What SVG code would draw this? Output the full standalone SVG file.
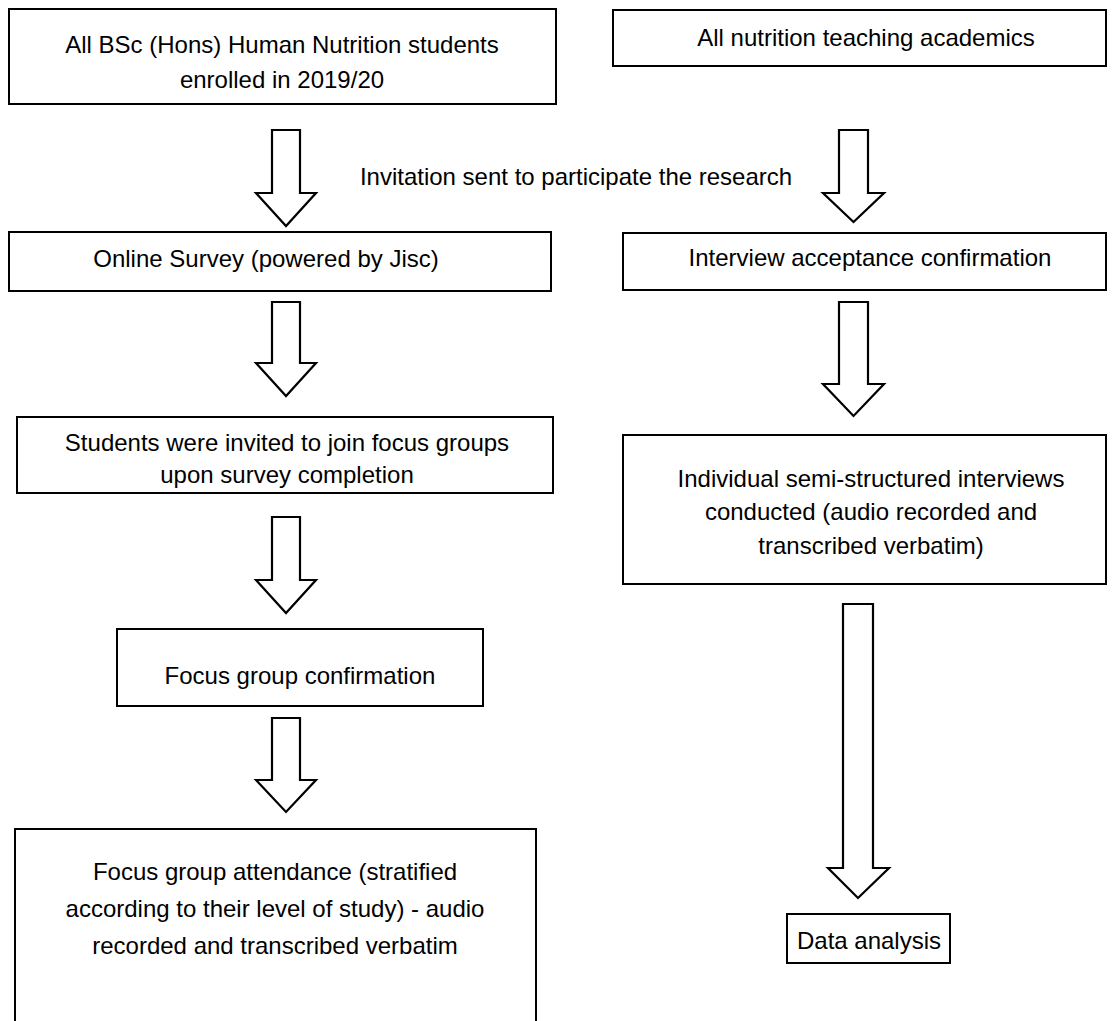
<svg xmlns="http://www.w3.org/2000/svg" width="1115" height="1021" viewBox="0 0 1115 1021">
<style>
.box{fill:#fff;stroke:#000;stroke-width:2}
.arr{fill:#fff;stroke:#000;stroke-width:2.2;stroke-linejoin:miter}
text{font-family:"Liberation Sans",Arial,sans-serif;font-size:24px;fill:#000;text-anchor:middle}
</style>
<rect width="1115" height="1021" fill="#fff"/>
<g id="connectors">
<polygon class="arr" points="272,130 300,130 300,193 316,193 286,226 256,193 272,193"/>
<polygon class="arr" points="839,130 868,130 868,193 884,193 853.5,222 823,193 839,193"/>
<polygon class="arr" points="272,302 300,302 300,363 316,363 286,396 256,363 272,363"/>
<polygon class="arr" points="839,302 868,302 868,384 884,384 853.5,416 823,384 839,384"/>
<polygon class="arr" points="272,517 300,517 300,580 316,580 286,613 256,580 272,580"/>
<polygon class="arr" points="272,718 300,718 300,780 316,780 286,812 256,780 272,780"/>
<polygon class="arr" points="843,604 873,604 873,868 889,868 858,898 828,868 843,868"/>
</g>
<g id="invitation-label"><text x="576" y="185">Invitation sent to participate the research</text></g>
<g id="n1"><rect class="box" x="9" y="9" width="547" height="95"/>
<text x="282" y="53">All BSc (Hons) Human Nutrition students</text>
<text x="282" y="88">enrolled in 2019/20</text></g>
<g id="n2"><rect class="box" x="613" y="10" width="493" height="56"/>
<text x="866" y="46">All nutrition teaching academics</text></g>
<g id="n3"><rect class="box" x="9" y="232" width="542" height="59"/>
<text x="266" y="267">Online Survey (powered by Jisc)</text></g>
<g id="n4"><rect class="box" x="623" y="233" width="483" height="57"/>
<text x="870" y="266">Interview acceptance confirmation</text></g>
<g id="n5"><rect class="box" x="17" y="417" width="536" height="76"/>
<text x="287" y="451">Students were invited to join focus groups</text>
<text x="287" y="483">upon survey completion</text></g>
<g id="n6"><rect class="box" x="623" y="435" width="483" height="149"/>
<text x="871" y="487">Individual semi-structured interviews</text>
<text x="871" y="520">conducted (audio recorded and</text>
<text x="871" y="554">transcribed verbatim)</text></g>
<g id="n7"><rect class="box" x="117" y="629" width="366" height="77"/>
<text x="300" y="684">Focus group confirmation</text></g>
<g id="n8"><rect class="box" x="15" y="829" width="521" height="220"/>
<text x="275" y="880">Focus group attendance (stratified</text>
<text x="275" y="917">according to their level of study) - audio</text>
<text x="275" y="954">recorded and transcribed verbatim</text></g>
<g id="n9"><rect class="box" x="787" y="914" width="163" height="49"/>
<text x="869" y="949">Data analysis</text></g>
</svg>
